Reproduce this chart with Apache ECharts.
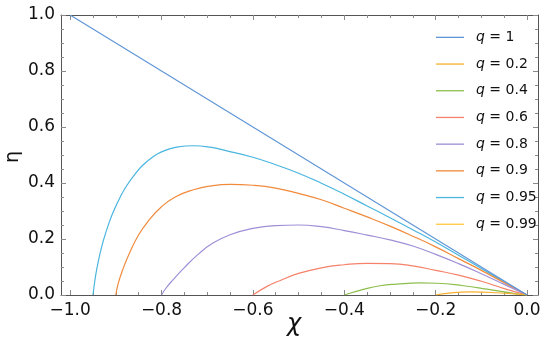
<!DOCTYPE html>
<html>
<head>
<meta charset="utf-8">
<script src="https://cdn.jsdelivr.net/npm/echarts@6/dist/echarts.min.js"></script>
<style>
html,body{margin:0;padding:0;background:#fff;}
#chart{width:550px;height:343px;}
</style>
</head>
<body>
<div id="chart"></div>
<script>
// ---- data ----
var seriesNames = ['1', '0.2', '0.4', '0.6', '0.8', '0.9', '0.95', '0.99'];
var q1 = [[-1, 1], [0, 0]];
var q02 = [[-0.2,0],[-0.17,0.007],[-0.125,0.011],[-0.066,0.008],[0,0]];
var q04 = [[-0.4,0],[-0.358,0.02],[-0.322,0.033],[-0.285,0.039],[-0.234,0.043],[-0.198,0.042],[-0.139,0.033],[-0.088,0.021],[-0.03,0.006],[0,0]];
var q06 = [[-0.6,0],[-0.57,0.03],[-0.54,0.052],[-0.5,0.077],[-0.45,0.097],[-0.4,0.108],[-0.35,0.113],[-0.3,0.112],[-0.25,0.104],[-0.2,0.088],[-0.15,0.071],[-0.1,0.049],[-0.05,0.023],[0,0]];
var q08 = [[-0.8,0],[-0.79,0.025],[-0.775,0.054],[-0.75,0.098],[-0.72,0.145],[-0.69,0.183],[-0.65,0.215],[-0.6,0.238],[-0.55,0.248],[-0.5,0.25],[-0.45,0.244],[-0.4,0.23],[-0.35,0.214],[-0.3,0.197],[-0.25,0.175],[-0.2,0.145],[-0.15,0.112],[-0.1,0.076],[-0.05,0.038],[0,0]];
var q09 = [[-0.9,0],[-0.895,0.04],[-0.885,0.09],[-0.87,0.15],[-0.85,0.215],[-0.83,0.262],[-0.8,0.315],[-0.77,0.35],[-0.73,0.376],[-0.69,0.39],[-0.65,0.395],[-0.6,0.392],[-0.55,0.382],[-0.5,0.363],[-0.45,0.34],[-0.4,0.31],[-0.35,0.279],[-0.3,0.246],[-0.25,0.21],[-0.2,0.172],[-0.15,0.13],[-0.1,0.088],[-0.05,0.044],[0,0]];
var q095 = [[-0.95,0],[-0.946,0.05],[-0.942,0.09],[-0.935,0.145],[-0.927,0.196],[-0.916,0.252],[-0.905,0.299],[-0.89,0.351],[-0.876,0.391],[-0.858,0.432],[-0.84,0.465],[-0.82,0.492],[-0.8,0.511],[-0.767,0.528],[-0.73,0.533],[-0.694,0.528],[-0.657,0.515],[-0.6,0.492],[-0.55,0.465],[-0.5,0.435],[-0.45,0.399],[-0.4,0.36],[-0.35,0.318],[-0.3,0.276],[-0.25,0.233],[-0.2,0.189],[-0.15,0.142],[-0.1,0.095],[-0.05,0.047],[0,0]];
var q099 = [];
var xTicks = [-1, -0.8, -0.6, -0.4, -0.2, 0];
var xMinor = [-1,-0.95,-0.9,-0.85,-0.8,-0.75,-0.7,-0.65,-0.6,-0.55,-0.5,-0.45,-0.4,-0.35,-0.3,-0.25,-0.2,-0.15,-0.1,-0.05,0];
var yTicks = [0, 0.2, 0.4, 0.6, 0.8, 1];
var yMinor = [0,0.05,0.1,0.15,0.2,0.25,0.3,0.35,0.4,0.45,0.5,0.55,0.6,0.65,0.7,0.75,0.8,0.85,0.9,0.95,1];

var allData = [q1, q02, q04, q06, q08, q09, q095, q099];
var colors = ['#6096D6', '#F7B02E', '#8DBF4E', '#F5826A', '#9F8FD6', '#F08A3C', '#4AB5DE', '#FFC83D'];

var FONT = '"DejaVu Sans", sans-serif';
function fmt(v) { return v.toFixed(1).replace('-', '\u2212'); }

function xAx(pos, labels, ticks, len, line) {
  return {
    type: 'value', position: pos, min: -1.02, max: 0.024,
    axisLine: { show: line, onZero: false, lineStyle: { color: '#555', width: 1 } },
    splitLine: { show: false },
    axisTick: { show: true, inside: true, length: len, customValues: ticks, lineStyle: { color: '#8a8a8a', width: 1 } },
    axisLabel: labels ? { show: true, customValues: xTicks, formatter: fmt, fontSize: 17, color: '#111', fontFamily: FONT, margin: 7 } : { show: false }
  };
}
function yAx(pos, labels, ticks, len, line) {
  return {
    type: 'value', position: pos, min: 0, max: 1,
    axisLine: { show: line, onZero: false, lineStyle: { color: '#555', width: 1 } },
    splitLine: { show: false },
    axisTick: { show: true, inside: true, length: len, customValues: ticks, lineStyle: { color: '#8a8a8a', width: 1 } },
    axisLabel: labels ? { show: true, customValues: yTicks, formatter: fmt, fontSize: 17, color: '#111', fontFamily: FONT, margin: 6 } : { show: false }
  };
}

var series = seriesNames.map(function (n, i) {
  return {
    name: n, type: 'line', data: allData[i], xAxisIndex: 0, yAxisIndex: 0,
    smooth: 0.5, symbol: 'none', showSymbol: false,
    lineStyle: { color: colors[i], width: 1.2 },
    itemStyle: { color: colors[i] },
    color: colors[i],
    z: 10 - i * 0.1, animation: false
  };
});

var chart = echarts.init(document.getElementById('chart'), null, { renderer: 'canvas' });
chart.setOption({
  animation: false,
  backgroundColor: '#ffffff',
  grid: { left: 61, top: 15, right: 12, bottom: 48, outerBoundsMode: 'none', containLabel: false },
  xAxis: [
    xAx('bottom', true, xTicks, 5, true),
    xAx('bottom', false, xMinor, 3, false),
    xAx('top', false, xTicks, 5, true),
    xAx('top', false, xMinor, 3, false)
  ],
  yAxis: [
    yAx('left', true, yTicks, 5, true),
    yAx('left', false, yMinor, 3, false),
    yAx('right', false, yTicks, 5, true),
    yAx('right', false, yMinor, 3, false)
  ],
  legend: {
    show: true,
    orient: 'vertical', left: 436, top: 29, padding: 0,
    icon: 'rect',
    itemWidth: 28, itemHeight: 1.3, itemGap: 10,
    data: seriesNames,
    formatter: function (n) { return '{i|q}{n| = ' + n + '}'; },
    textStyle: {
      fontSize: 14, color: '#111', fontFamily: FONT, lineHeight: 16.7,
      rich: {
        i: { fontSize: 14, fontStyle: 'italic', fontFamily: FONT, color: '#111', padding: [0, 0, 0, 7], lineHeight: 16.7 },
        n: { fontSize: 14, fontFamily: FONT, color: '#111', lineHeight: 16.7 }
      }
    },
    selectedMode: false
  },
  graphic: [
    { type: 'text', left: 287, top: 313, style: { text: '\u03C7', font: 'italic 24px "DejaVu Sans", sans-serif', fill: '#111' } },
    { type: 'text', x: 13, y: 157, rotation: Math.PI / 2, style: { text: '\u03B7', font: '19px "DejaVu Sans", sans-serif', fill: '#111', align: 'center', verticalAlign: 'middle' } }
  ],
  series: series
});
</script>
</body>
</html>
